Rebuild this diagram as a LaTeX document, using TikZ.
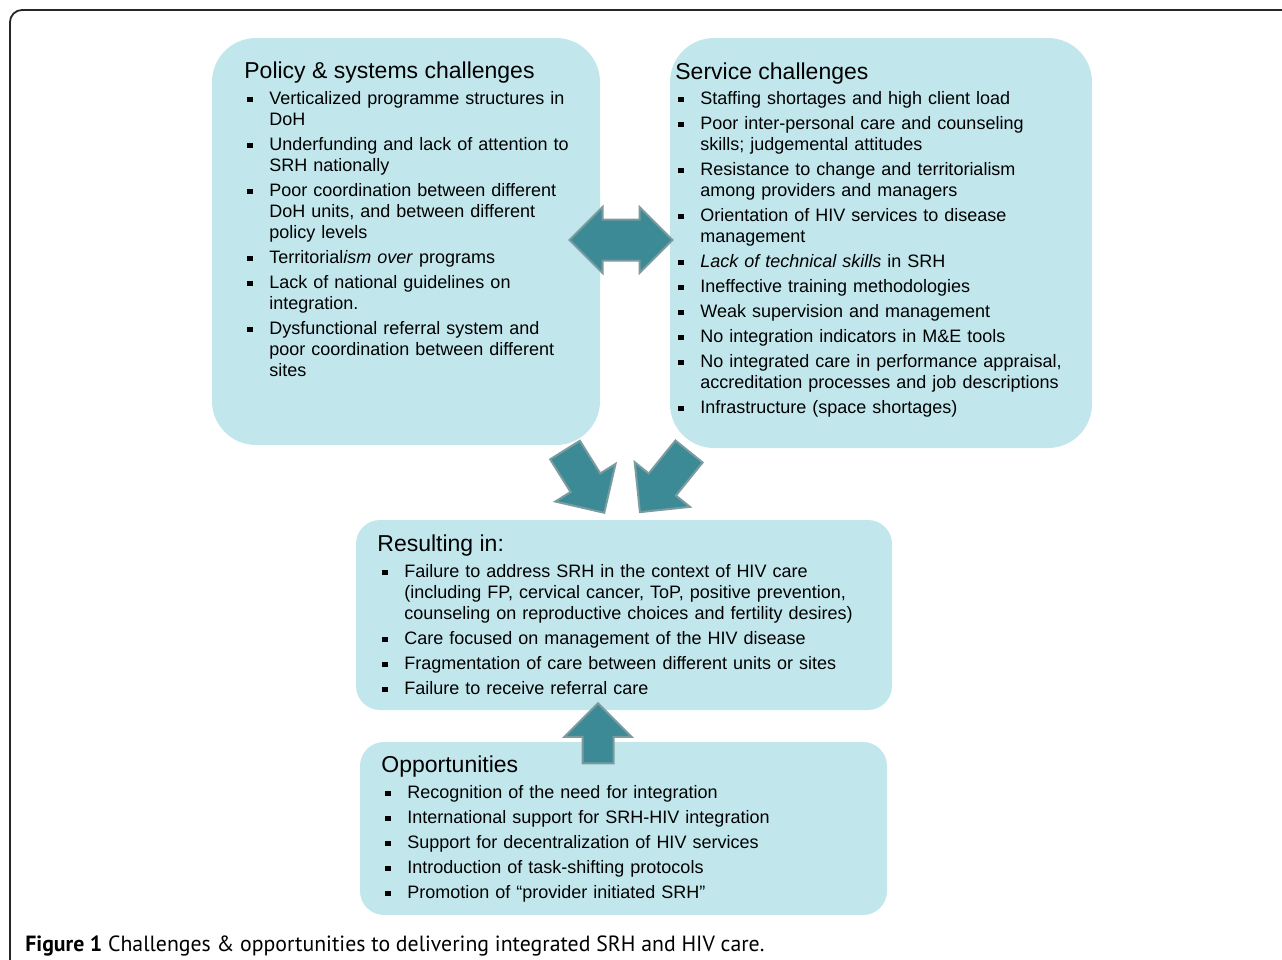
\documentclass[tikz,border=0pt]{standalone}
\usepackage{fontspec}
\usepackage{graphicx}
\setmainfont{Liberation Sans}
\newfontfamily\capfont{PT Sans}
\usetikzlibrary{shapes.arrows,positioning}

\definecolor{panelblue}{RGB}{193,231,237}
\definecolor{arrowteal}{RGB}{60,138,149}
\definecolor{arrowrim}{RGB}{122,156,161}

\newcommand{\bpoint}[1]{\par\hangindent=11pt\hangafter=1\noindent\strut\makebox[11pt][l]{\rule[0.25ex]{2.6pt}{2.6pt}}#1\par}

\tikzset{
  panel/.style   = {rectangle, fill=panelblue, rounded corners=22pt, inner sep=0pt},
  small panel/.style = {panel, rounded corners=12pt},
  heading/.style = {anchor=base west, inner sep=0pt, font=\fontsize{11.5}{13}\selectfont},
  points/.style  = {anchor=north west, inner sep=0pt, align=left,
                    font=\fontsize{9}{10.5}\selectfont,
                    execute at begin node={\setlength{\parskip}{2pt}}},
  fat arrow/.style = {fill=arrowteal, draw=arrowrim, line width=1pt},
  down arrow/.style = {fat arrow, single arrow, inner sep=8.25pt, single arrow head extend=9pt,
                       single arrow tip angle=90}
}

\begin{document}
\begin{tikzpicture}[x=0.5pt, y=-0.5pt]
\useasboundingbox (0,0) rectangle (1282,960);

% frame of the figure
\draw[line width=0.9pt, black!85, rounded corners=6pt] (10,990) -- (10,10) -- (1310,10);

% the four panels
\node[panel, minimum width=194pt, minimum height=203.5pt] (policy) at (406,241.5) {};
\node[panel, minimum width=211pt, minimum height=205pt] (service) at (881,243) {};
\node[small panel, minimum width=268pt, minimum height=95pt] (result) at (624,615) {};
\node[small panel, minimum width=263.5pt, minimum height=86.5pt] (chance) at (623.5,828.5) {};

\begin{scope}[every node/.style={heading}]
\node (policy-head) at (244,78) {Policy \& systems challenges};
\node (service-head) at (675,79) {Service challenges};
\node (result-head) at (377,551) {Resulting in:};
\node (chance-head) at (381,772) {Opportunities};
\end{scope}

\begin{scope}[every node/.style={points}]
\node[text width=180pt] (policy-pts) at (247,78.8) {%
\bpoint{Verticalized programme structures in\newline DoH}
\bpoint{Underfunding and lack of attention to\newline SRH nationally}
\bpoint{Poor coordination between different\newline DoH units, and between different\newline policy levels}
\bpoint{Territorial\textit{ism over} programs}
\bpoint{Lack of national guidelines on\newline integration.}
\bpoint{Dysfunctional referral system and\newline poor coordination between different\newline sites}};
\node[text width=200pt] (service-pts) at (678,78.8) {%
\bpoint{Staffing shortages and high client load}
\bpoint{Poor inter-personal care and counseling\newline skills; judgemental attitudes}
\bpoint{Resistance to change and territorialism\newline among providers and managers}
\bpoint{Orientation of HIV services to disease\newline management}
\bpoint{\textit{Lack of technical skills} in SRH}
\bpoint{Ineffective training methodologies}
\bpoint{Weak supervision and management}
\bpoint{No integration indicators in M\&E tools}
\bpoint{No integrated care in performance appraisal,\newline accreditation processes and job descriptions}
\bpoint{Infrastructure (space shortages)}};
\node[text width=250pt] (result-pts) at (382,552) {%
\bpoint{Failure to address SRH in the context of HIV care\newline (including FP, cervical cancer, ToP, positive prevention,\newline counseling on reproductive choices and fertility desires)}
\bpoint{Care focused on management of the HIV disease}
\bpoint{Fragmentation of care between different units or sites}
\bpoint{Failure to receive referral care}};
\node[text width=250pt] (chance-pts) at (385,773) {%
\bpoint{Recognition of the need for integration}
\bpoint{International support for SRH-HIV integration}
\bpoint{Support for decentralization of HIV services}
\bpoint{Introduction of task-shifting protocols}
\bpoint{Promotion of “provider initiated SRH”}};
\end{scope}

% block arrows between the panels
\node[fat arrow, double arrow, inner sep=9.75pt, double arrow head extend=6.25pt, double arrow tip angle=90,
      minimum height=51.5pt] (link) at (621,240) {};
\node[down arrow, minimum height=37pt, rotate=-58] (policy-down) at (580,474) {};
\node[down arrow, minimum height=39pt, rotate=-129] (service-down) at (670,475) {};
\node[fat arrow, single arrow, inner sep=7.25pt, single arrow head extend=9pt, single arrow tip angle=90,
      minimum height=30pt, rotate=90] (chance-up) at (598,741) {};

\node[anchor=base west, inner sep=0pt, font=\capfont\fontsize{11}{13}\selectfont] (caption) at (25,951)
  {\scalebox{0.99}[1]{\textbf{Figure 1} Challenges \& opportunities to delivering integrated SRH and HIV care.}};
\end{tikzpicture}
\end{document}
